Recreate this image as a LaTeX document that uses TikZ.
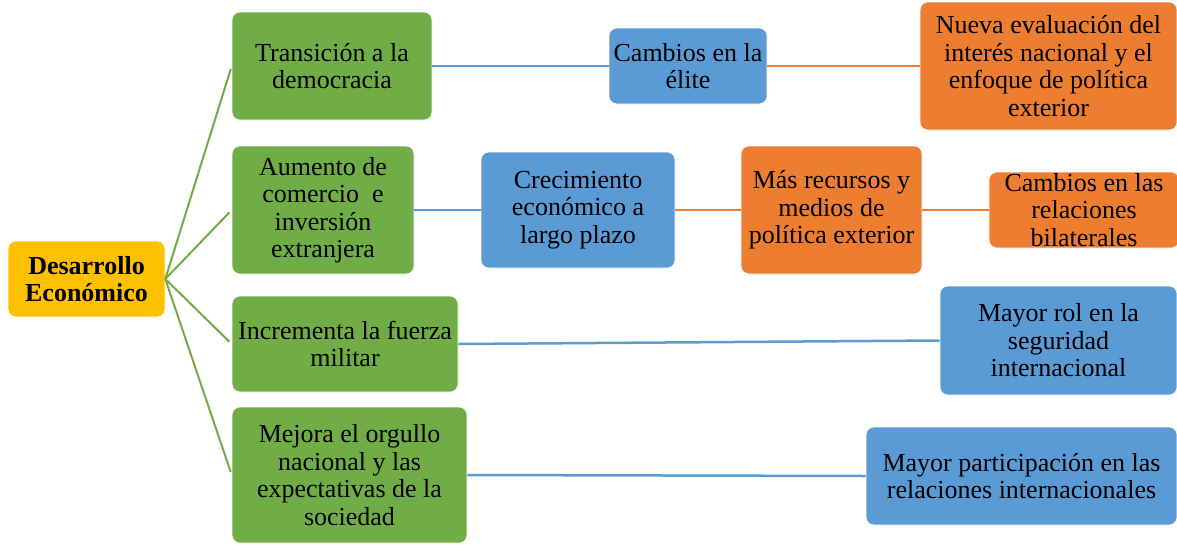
\documentclass[tikz,border=0pt]{standalone}
\usepackage{fontspec}
\setmainfont{Liberation Serif}
\definecolor{cgreen}{HTML}{70AD47}
\definecolor{cblue}{HTML}{5B9BD5}
\definecolor{corange}{HTML}{ED7D31}
\definecolor{cgold}{HTML}{FFC000}
\tikzset{
  boxshape/.style={rectangle, rounded corners=8pt, draw=white, line width=0.6pt, fill=#1, inner sep=0pt},
  txt/.style={align=center, inner sep=0pt, font=\fontsize{26}{27.5}\selectfont},
  gline/.style={draw=cgreen, line width=2pt},
  bline/.style={draw=cblue, line width=2.5pt},
  oline/.style={draw=corange, line width=2.5pt},
}
\begin{document}
\begin{tikzpicture}[x=1pt,y=-1pt]
\useasboundingbox (0,0) rectangle (1177,544);
% boxes
\node[boxshape=cgold, minimum width=157pt, minimum height=76pt] (root) at (86.5,279) {};
\node[txt, font=\fontsize{26}{27.5}\selectfont\bfseries] (root-t) at (root) {Desarrollo\\Económico};

\node[boxshape=cgreen, minimum width=200pt, minimum height=108pt] (g1) at (332,66) {};
\node[txt] (g1-t) at (g1) {Transición a la\\democracia};
\node[boxshape=cgreen, minimum width=182pt, minimum height=128pt] (g2) at (323,210) {};
\node[txt] (g2-t) at (g2) {Aumento de\\comercio~ e\\inversión\\extranjera};
\node[boxshape=cgreen, minimum width=226pt, minimum height=96pt] (g3) at (345,344) {};
\node[txt] (g3-t) at (g3) {Incrementa la fuerza\\militar};
\node[boxshape=cgreen, minimum width=235pt, minimum height=136pt] (g4) at (349.5,475) {};
\node[txt] (g4-t) at (g4) {Mejora el orgullo\\nacional y las\\expectativas de la\\sociedad};

\node[boxshape=cblue, minimum width=158pt, minimum height=76pt] (b1) at (688,66) {};
\node[txt] (b1-t) at (b1) {Cambios en la\\élite};
\node[boxshape=corange, minimum width=257pt, minimum height=128pt] (o1) at (1048.5,66) {};
\node[txt] (o1-t) at (o1) {Nueva evaluación del\\interés nacional y el\\enfoque de política\\exterior};

\node[boxshape=cblue, minimum width=194pt, minimum height=116pt] (b2) at (578,210) {};
\node[txt] (b2-t) at (b2) {Crecimiento\\económico a\\largo plazo};
\node[boxshape=corange, minimum width=181pt, minimum height=128pt] (o2) at (831.5,210) {};
\node[txt] (o2-t) at (o2) {Más recursos y\\medios de\\política exterior};
\node[boxshape=corange, minimum width=190pt, minimum height=76pt] (o3) at (1084,210) {};
\node[txt] (o3-t) at (o3) {Cambios en las\\relaciones\\bilaterales};

\node[boxshape=cblue, minimum width=237pt, minimum height=109pt] (b3) at (1058.5,340.5) {};
\node[txt] (b3-t) at (b3) {Mayor rol en la\\seguridad\\internacional};
\node[boxshape=cblue, minimum width=311pt, minimum height=98pt] (b4) at (1021.5,476) {};
\node[txt] (b4-t) at (b4) {Mayor participación en las\\relaciones internacionales};

% connectors
\draw[gline, shorten >=3pt] (root.east) -- (g1.west);
\draw[gline, shorten >=3pt] (root.east) -- (g2.west);
\draw[gline, shorten >=3pt] (root.east) -- (g3.west);
\draw[gline, shorten >=3pt] (root.east) -- (g4.west);
\draw[bline] (g1.east) -- (b1.west);
\draw[oline] (b1.east) -- (o1.west);
\draw[bline] (g2.east) -- (b2.west);
\draw[oline] (b2.east) -- (o2.west);
\draw[oline] (o2.east) -- (o3.west);
\draw[bline] (g3.east) -- (b3.west);
\draw[bline] (g4.east) -- (b4.west);
\end{tikzpicture}
\end{document}
